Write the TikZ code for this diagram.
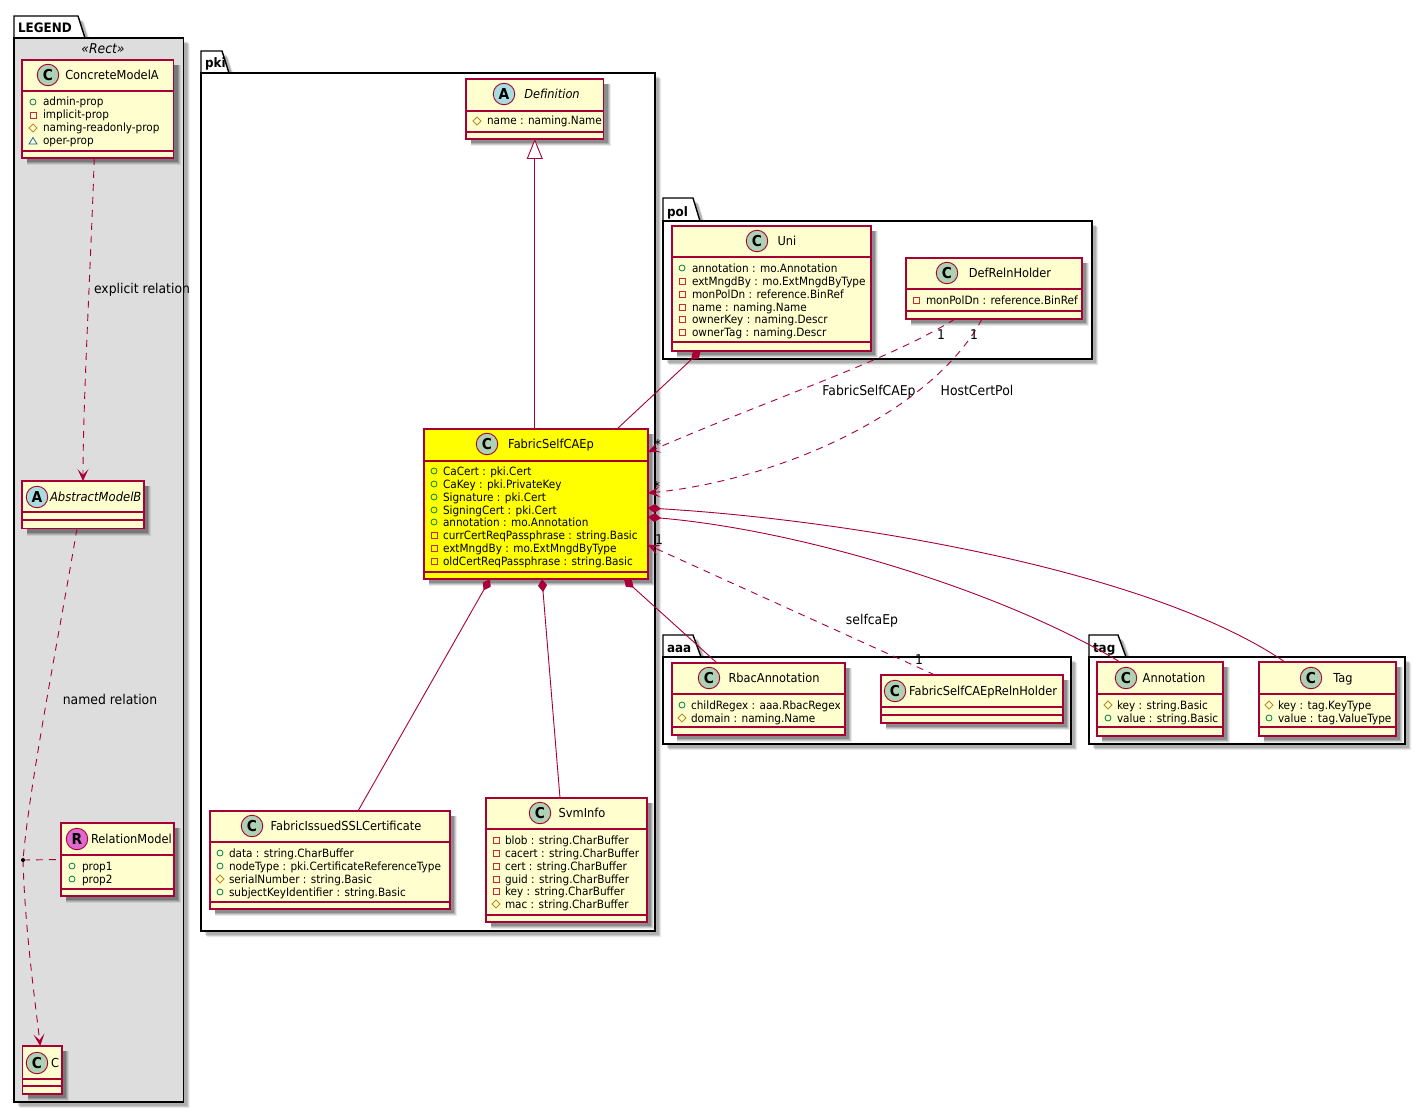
\documentclass[tikz,border=0pt]{standalone}
\usepackage{fontspec}
\setmainfont{DejaVu Sans}[FakeStretch=0.92]
\usetikzlibrary{arrows.meta,shapes.geometric}
\definecolor{umlred}{HTML}{A80036}
\definecolor{umlyel}{HTML}{FEFECE}
\definecolor{puryel}{HTML}{FFFF00}
\definecolor{circC}{HTML}{ADD1B2}
\definecolor{circA}{HTML}{A9DCDF}
\definecolor{circR}{HTML}{DF69CF}
\definecolor{icoG}{HTML}{038048}
\definecolor{icoR}{HTML}{C82930}
\definecolor{icoY}{HTML}{B38D22}
\definecolor{icoB}{HTML}{1963A0}
\definecolor{legbg}{HTML}{DDDDDD}
\newcounter{autoid}
\newcommand{\nid}{n\theautoid}
\newcommand{\tn}{\stepcounter{autoid}\node}
\tikzset{
  x=1pt,y=-1pt,
  every node/.style={inner sep=0pt,outer sep=0pt,text=black},
  classbox/.style={draw=umlred,line width=1.2pt,rectangle,anchor=center},
  sepline/.style={draw=umlred,line width=1.1pt},
  pkgshape/.style={draw=black,line width=1.4pt},
  conn/.style={draw=umlred,line width=0.9pt},
  dconn/.style={conn,dash pattern=on 7pt off 6pt},
  opentip/.style={-{Stealth[length=12pt,width=11pt,inset=6pt,color=umlred,fill=umlred]}},
  comp/.style={{Diamond[length=13pt,width=9pt,color=umlred,fill=umlred]}-},
  inh/.style={-{Triangle[open,length=20pt,width=16pt,color=umlred,fill=white,line width=0.9pt]}},
  attrfont/.style={font=\fontsize{11.4}{13}\selectfont},
  titlefont/.style={font=\fontsize{12.4}{14}\selectfont},
  lblfont/.style={font=\fontsize{13.5}{15}\selectfont},
  shadowa/.style={fill=black,opacity=0.08},
  shadowb/.style={fill=black,opacity=0.12},
  shadowc/.style={fill=black,opacity=0.15},
  shadowd/.style={fill=black,opacity=0.20},
}
% package: x1,y-tabtop,tab-right-top,tab-right-bottom,body-top,x2,y2,fill,text
\newcommand{\pkgsh}[8]{%
  \fill[#8] (#1+#7,#2+#7) -- (#3+#7,#2+#7) -- (#4+#7,#5+#7) -- (#6+#7,#5+#7) -- (#6+#7,\pkgbot+#7) -- (#1+#7,\pkgbot+#7) -- cycle;
}
\newcommand{\pkg}[9]{%
  \def\pkgbot{#7}%
  \pkgsh{#1}{#2}{#3}{#4}{#5}{#6}{6}{shadowa}
  \pkgsh{#1}{#2}{#3}{#4}{#5}{#6}{5}{shadowb}
  \pkgsh{#1}{#2}{#3}{#4}{#5}{#6}{4}{shadowc}
  \filldraw[pkgshape,fill=white] (#1,#2) -- (#3,#2) -- (#4,#5) -- (#1,#5) -- cycle;
  \filldraw[pkgshape,fill=#8] (#1,#5) rectangle (#6,#7);
  \tn[anchor=base west,font=\fontsize{13}{15}\bfseries\selectfont] (\nid) at (#1+4,#5-5) {#9};
}
% class: name,x1,y1,x2,y2,sep1,sep2,fill
\newcommand{\cls}[8]{%
  \fill[shadowa] (#2+5,#3+5) rectangle (#4+7,#5+7);
  \fill[shadowb] (#2+5,#3+5) rectangle (#4+6,#5+6);
  \fill[shadowc] (#2+5,#3+5) rectangle (#4+5,#5+5);
  \fill[shadowd] (#2+5,#3+5) rectangle (#4+4,#5+4);
  \node[classbox,fill=#8,minimum width=#4-#2,minimum height=#5-#3] (#1) at ({(#2+#4)/2},{(#3+#5)/2}) {};
  \draw[sepline] (#2,#6) -- (#4,#6);
  \draw[sepline] (#2,#7) -- (#4,#7);
}
% circle: x,y,letter,fill
\newcommand{\circl}[4]{%
  \tn[circle,draw=umlred,line width=0.9pt,fill=#4,minimum size=21.5pt,font=\fontsize{15}{15}\bfseries\selectfont] (\nid) at (#1,#2) {#3};
}
% title: x,y,text
\newcommand{\ttl}[3]{\tn[titlefont,anchor=base] (\nid) at (#1,#2+4.5) {#3};}
% attributes: iconx,textx,y,text
\newcommand{\attrtext}[3]{\tn[attrfont,anchor=base west] (\nid) at (#1,#2+4) {#3};}
\newcommand{\pub}[4]{\draw[icoG,line width=0.8pt] (#1,#3) circle (3pt); \attrtext{#2}{#3}{#4}}
\newcommand{\pri}[4]{\draw[icoR,line width=0.8pt] (#1-3,#3-3) rectangle (#1+3,#3+3); \attrtext{#2}{#3}{#4}}
\newcommand{\pro}[4]{\draw[icoY,line width=0.8pt] (#1,#3-4) -- (#1+4,#3) -- (#1,#3+4) -- (#1-4,#3) -- cycle; \attrtext{#2}{#3}{#4}}
\newcommand{\pkgp}[4]{\draw[icoB,line width=0.8pt] (#1,#3-3.5) -- (#1+4,#3+3) -- (#1-4,#3+3) -- cycle; \attrtext{#2}{#3}{#4}}
\newcommand{\lbl}[3]{\tn[lblfont,anchor=base] (\nid) at (#1,#2+5) {#3};}
\begin{document}
\begin{tikzpicture}
\useasboundingbox (0,0) rectangle (1425,1113);
% packages
\pkg{14}{16}{78}{85}{38}{183.5}{1102}{legbg}{LEGEND}
\pkg{201}{51}{222}{229}{73}{655}{931}{white}{pki}
\pkg{663}{198}{693}{700}{221}{1092}{359}{white}{pol}
\pkg{663}{635}{693}{701}{657}{1071}{744}{white}{aaa}
\pkg{1089}{635}{1118}{1126}{657}{1405}{744}{white}{tag}
\tn[font=\fontsize{13.5}{15}\itshape\selectfont,anchor=base] (\nid) at (103,54) {«Rect»};

% classes
\cls{conc}{22}{60}{173.5}{158}{91}{151}{umlyel}
\cls{abstr}{22}{481}{144}{528.5}{512}{520}{umlyel}
\cls{rel}{61}{823}{174}{896}{855}{889}{umlyel}
\cls{cc}{22.5}{1046}{62}{1094}{1079}{1086}{umlyel}
\cls{def}{466}{79}{603.5}{139}{111}{132}{umlyel}
\cls{fab}{424}{429}{648}{579}{461}{572}{puryel}
\cls{iss}{210}{811}{450}{909}{842}{902}{umlyel}
\cls{svm}{486}{798}{647}{922}{829}{915}{umlyel}
\cls{uni}{672}{226}{871}{351}{257}{342}{umlyel}
\cls{drh}{906}{258}{1082}{319}{289}{311}{umlyel}
\cls{rbac}{672}{663}{845}{735}{694}{727}{umlyel}
\cls{hold}{881}{675}{1063}{723}{707}{715}{umlyel}
\cls{ann}{1097}{662}{1223}{736}{694}{727}{umlyel}
\cls{tagc}{1259}{662}{1396}{736}{694}{727}{umlyel}

% connectors
\node[circle,minimum size=4pt] (dot) at (23,860) {};
\draw[dconn,opentip] ([xshift=-3.5pt]conc.south) .. controls (91,260) and (83,400) .. (abstr.north);
\draw[dconn] ([xshift=-6pt]abstr.south) .. controls (60,630) and (30,780) .. (dot.center);
\draw[dconn,opentip] (dot.center) .. controls (25,930) and (35,1000) .. ([xshift=-2pt]cc.north);
\draw[dconn] (dot.center) -- (rel.west);
\fill[black] (dot.center) circle (2pt);
\draw[conn,inh] ([xshift=-1.25pt]fab.north) -- (def.south);
\draw[conn,comp] ([xshift=-71pt]uni.south) -- ([xshift=81pt]fab.north);
\draw[dconn,opentip] ([xshift=-39pt]drh.south) .. controls (885,362) and (780,395) .. ([yshift=52pt]fab.east);
\draw[dconn,opentip] ([xshift=-12pt]drh.south) .. controls (932,412) and (780,480) .. ([yshift=11pt]fab.east);
\draw[dconn,opentip] ([xshift=-37pt]hold.north) -- ([yshift=-41pt]fab.east);
\draw[conn,comp] ([yshift=-4pt]fab.east) .. controls (850,520) and (1150,570) .. ([xshift=-42.5pt]tagc.north);
\draw[conn,comp] ([yshift=-13pt]fab.east) .. controls (800,530) and (1000,590) .. ([xshift=-40pt]ann.north);
\draw[conn,comp] ([xshift=88pt]fab.south) -- ([xshift=-41.5pt]rbac.north);
\draw[conn,comp] ([xshift=-46pt]fab.south) -- ([xshift=28pt]iss.north);
\draw[conn,comp] ([xshift=6pt]fab.south) -- ([xshift=-6.5pt]svm.north);

% class contents
\circl{48}{75}{C}{circC}\ttl{112}{75}{ConcreteModelA}
\pub{33}{43}{102}{admin-prop}
\pri{33}{43}{115}{implicit-prop}
\pro{33}{43}{128}{naming-readonly-prop}
\pkgp{33}{43}{141}{oper-prop}

\circl{37}{497}{A}{circA}
\tn[font=\fontsize{12.6}{14}\itshape\selectfont,anchor=base west] (\nid) at (50,501) {AbstractModelB};

\circl{77}{839}{R}{circR}
\tn[titlefont,anchor=base west] (\nid) at (91,843.5) {RelationModel};
\pub{72}{82}{866}{prop1}
\pub{72}{82}{879}{prop2}

\circl{37}{1063}{C}{circC}\tn[titlefont,anchor=base west] (\nid) at (51,1067.5) {C};

\circl{504}{94}{A}{circA}
\tn[font=\fontsize{12.4}{14}\itshape\selectfont,anchor=base] (\nid) at (552,98.5) {Definition};
\pro{477}{487}{121}{name : naming.Name}

\circl{487}{444}{C}{circC}\ttl{551}{444}{FabricSelfCAEp}
\pub{434}{443}{471}{CaCert : pki.Cert}
\pub{434}{443}{484}{CaKey : pki.PrivateKey}
\pub{434}{443}{497}{Signature : pki.Cert}
\pub{434}{443}{510}{SigningCert : pki.Cert}
\pub{434}{443}{522}{annotation : mo.Annotation}
\pri{434}{443}{535}{currCertReqPassphrase : string.Basic}
\pri{434}{443}{548}{extMngdBy : mo.ExtMngdByType}
\pri{434}{443}{561}{oldCertReqPassphrase : string.Basic}

\circl{252}{826}{C}{circC}\ttl{346}{826}{FabricIssuedSSLCertificate}
\pub{220}{229}{853}{data : string.CharBuffer}
\pub{220}{229}{866}{nodeType : pki.CertificateReferenceType}
\pro{220}{229}{879}{serialNumber : string.Basic}
\pub{220}{229}{892}{subjectKeyIdentifier : string.Basic}

\circl{540}{813}{C}{circC}\ttl{582}{813}{SvmInfo}
\pri{496}{505}{840}{blob : string.CharBuffer}
\pri{496}{505}{853}{cacert : string.CharBuffer}
\pri{496}{505}{866}{cert : string.CharBuffer}
\pri{496}{505}{879}{guid : string.CharBuffer}
\pri{496}{505}{891}{key : string.CharBuffer}
\pro{496}{505}{904}{mac : string.CharBuffer}

\circl{757}{241}{C}{circC}\ttl{787}{241}{Uni}
\pub{682}{692}{268}{annotation : mo.Annotation}
\pri{682}{692}{281}{extMngdBy : mo.ExtMngdByType}
\pri{682}{692}{294}{monPolDn : reference.BinRef}
\pri{682}{692}{307}{name : naming.Name}
\pri{682}{692}{319}{ownerKey : naming.Descr}
\pri{682}{692}{332}{ownerTag : naming.Descr}

\circl{947}{273}{C}{circC}\ttl{1010}{273}{DefRelnHolder}
\pri{916}{926}{300}{monPolDn : reference.BinRef}

\circl{709}{678}{C}{circC}\ttl{774}{678}{RbacAnnotation}
\pub{682}{691}{705}{childRegex : aaa.RbacRegex}
\pro{682}{691}{718}{domain : naming.Name}

\circl{895}{691}{C}{circC}
\tn[titlefont,anchor=base west] (\nid) at (909,695.5) {FabricSelfCAEpRelnHolder};

\circl{1126}{678}{C}{circC}\ttl{1174}{678}{Annotation}
\pro{1108}{1117}{705}{key : string.Basic}
\pub{1108}{1117}{718}{value : string.Basic}

\circl{1311}{678}{C}{circC}\ttl{1343}{678}{Tag}
\pro{1269}{1278}{705}{key : tag.KeyType}
\pub{1269}{1278}{718}{value : tag.ValueType}

% connector labels
\lbl{142}{288}{explicit relation}
\lbl{110}{699}{named relation}
\lbl{869}{390}{FabricSelfCAEp}
\lbl{977}{390}{HostCertPol}
\lbl{872}{619}{selfcaEp}
\lbl{941}{334}{1}
\lbl{974}{334}{1}
\lbl{658}{444}{*}
\lbl{657}{486}{*}
\lbl{659}{539}{1}
\lbl{919}{659}{1}
\end{tikzpicture}
\end{document}
